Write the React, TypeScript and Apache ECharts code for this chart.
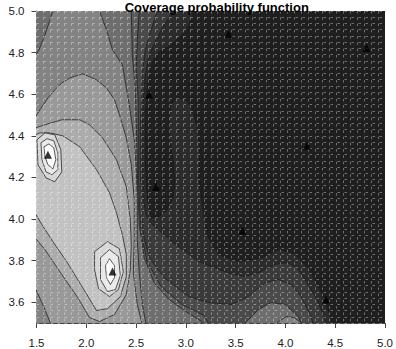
import React, { useEffect, useRef } from "react";
import * as echarts from "echarts";

const TITLE = "Coverage probability function";
const X_TICKS = [1.5, 2.0, 2.5, 3.0, 3.5, 4.0, 4.5, 5.0];
const Y_TICKS = [3.6, 3.8, 4.0, 4.2, 4.4, 4.6, 4.8, 5.0];

// gray level of each filled contour band (0 = lowest coverage)
const LEVEL_COLORS = [
  "#1f1f1f", "#2b2b2b", "#3a3a3a", "#4a4a4a", "#5b5b5b", "#6e6e6e", "#838383",
  "#999999", "#acacac", "#c2c2c2", "#d6d6d6", "#e9e9e9", "#fbfbfb",
];

// contour boundaries, in data units [x, y]
const BAND1 = [[1.435,5.029],[3.110,5.029],[3.080,5.0],[3.011,4.909],[2.851,4.837],[2.731,4.803],[2.662,4.755],[2.612,4.645],[2.592,4.477],[2.592,4.285],[2.612,4.093],[2.652,4.006],[2.731,4.011],[2.811,4.045],[2.871,4.102],[2.891,4.189],[2.871,4.285],[2.841,4.381],[2.831,4.477],[2.851,4.549],[2.901,4.582],[2.981,4.582],[3.050,4.544],[3.110,4.453],[3.140,4.333],[3.130,4.189],[3.170,4.045],[3.220,3.915],[3.329,3.829],[3.529,3.795],[3.758,3.814],[3.928,3.853],[4.077,3.838],[4.227,3.766],[4.347,3.661],[4.446,3.541],[4.486,3.459],[1.435,3.459]];
const BAND2 = [[1.435,5.029],[2.891,5.029],[2.881,5.0],[2.781,4.933],[2.701,4.861],[2.632,4.789],[2.592,4.693],[2.572,4.573],[2.562,4.429],[2.562,4.237],[2.572,4.093],[2.602,4.021],[2.632,3.987],[2.861,3.891],[3.130,3.795],[3.419,3.742],[3.589,3.723],[3.758,3.747],[3.888,3.781],[4.018,3.790],[4.117,3.766],[4.217,3.694],[4.317,3.613],[4.386,3.531],[4.426,3.459],[1.435,3.459]];
const BAND3 = [[1.435,5.029],[2.721,5.029],[2.711,5.0],[2.652,4.909],[2.592,4.813],[2.562,4.693],[2.552,4.573],[2.542,4.429],[2.542,4.237],[2.552,4.093],[2.572,3.925],[2.632,3.814],[2.781,3.718],[3.030,3.627],[3.230,3.598],[3.459,3.589],[3.629,3.627],[3.798,3.694],[3.928,3.709],[4.057,3.685],[4.157,3.627],[4.257,3.531],[4.297,3.459],[1.435,3.459]];
const BAND4 = [[1.435,5.029],[2.542,5.029],[2.532,5.0],[2.512,4.861],[2.502,4.717],[2.522,4.573],[2.522,4.429],[2.522,4.237],[2.532,4.093],[2.552,3.925],[2.612,3.795],[2.751,3.675],[2.961,3.589],[3.180,3.536],[3.280,3.459],[1.435,3.459]];
const BAND5 = [[1.435,5.029],[2.462,5.029],[2.452,5.0],[2.462,4.789],[2.492,4.630],[2.502,4.467],[2.512,4.237],[2.522,4.093],[2.532,3.973],[2.582,3.814],[2.681,3.694],[2.831,3.613],[3.001,3.555],[3.160,3.507],[3.190,3.459],[1.435,3.459]];
const BUMP5 = [[3.569,3.459],[3.599,3.502],[3.728,3.565],[3.858,3.598],[3.998,3.589],[4.127,3.531],[4.177,3.483],[4.197,3.459]];
const BAND6 = [[1.665,5.029],[2.133,5.029],[2.133,5.0],[2.203,4.909],[2.263,4.813],[2.362,4.741],[2.432,4.549],[2.482,4.381],[2.502,4.237],[2.512,4.093],[2.512,3.901],[2.532,3.742],[2.562,3.589],[2.602,3.493],[2.622,3.459],[1.435,3.459],[1.435,4.774],[1.495,4.789],[1.525,4.813],[1.585,4.885],[1.635,4.957],[1.665,5.0]];
const BUMP6 = [[3.898,3.459],[3.918,3.502],[4.008,3.531],[4.087,3.526],[4.157,3.502],[4.177,3.459]];
const BAND7 = [[1.435,4.467],[1.495,4.496],[1.535,4.525],[1.615,4.582],[1.684,4.621],[1.754,4.654],[1.834,4.678],[1.964,4.698],[2.103,4.669],[2.203,4.630],[2.283,4.573],[2.333,4.501],[2.402,4.390],[2.452,4.261],[2.482,4.093],[2.482,3.901],[2.472,3.742],[2.512,3.589],[2.562,3.493],[2.582,3.459],[1.655,3.459],[1.645,3.493],[1.585,3.565],[1.495,3.661],[1.435,3.689]];
const BAND8 = [[1.435,4.429],[1.585,4.453],[1.754,4.477],[1.934,4.477],[2.033,4.453],[2.163,4.390],[2.303,4.285],[2.402,4.155],[2.442,3.997],[2.452,3.877],[2.442,3.757],[2.402,3.637],[2.283,3.541],[2.133,3.507],[2.033,3.526],[1.914,3.622],[1.734,3.747],[1.585,3.853],[1.435,3.939]];
const BAND9 = [[1.435,4.395],[1.535,4.414],[1.635,4.414],[1.764,4.400],[1.934,4.347],[2.103,4.237],[2.233,4.126],[2.303,4.030],[2.362,3.925],[2.402,3.829],[2.402,3.723],[2.342,3.627],[2.213,3.569],[2.103,3.560],[1.964,3.670],[1.804,3.795],[1.665,3.891],[1.555,3.973],[1.435,4.069]];
const PEAK_A10 = [[1.505,4.381],[1.585,4.414],[1.684,4.405],[1.744,4.333],[1.754,4.227],[1.684,4.179],[1.595,4.198],[1.515,4.261]];
const PEAK_A11 = [[1.545,4.366],[1.605,4.386],[1.674,4.376],[1.714,4.318],[1.714,4.237],[1.655,4.213],[1.595,4.227],[1.555,4.285]];
const PEAK_A12 = [[1.575,4.347],[1.625,4.361],[1.674,4.342],[1.694,4.285],[1.665,4.241],[1.615,4.261],[1.585,4.299]];
const PEAK_B10 = [[2.083,3.843],[2.213,3.891],[2.333,3.857],[2.372,3.747],[2.323,3.661],[2.233,3.627],[2.123,3.665],[2.083,3.757]];
const PEAK_B11 = [[2.143,3.814],[2.233,3.853],[2.323,3.819],[2.342,3.728],[2.293,3.661],[2.213,3.651],[2.143,3.709]];
const PEAK_B12 = [[2.193,3.776],[2.233,3.809],[2.283,3.776],[2.283,3.718],[2.243,3.685],[2.203,3.718]];

const CONTOURS = [
  { level: 1, pts: BAND1 }, { level: 2, pts: BAND2 }, { level: 3, pts: BAND3 },
  { level: 4, pts: BAND4 }, { level: 5, pts: BAND5 }, { level: 5, pts: BUMP5 },
  { level: 6, pts: BAND6 }, { level: 6, pts: BUMP6 }, { level: 7, pts: BAND7 },
  { level: 8, pts: BAND8 }, { level: 9, pts: BAND9 },
  { level: 10, pts: PEAK_A10 }, { level: 11, pts: PEAK_A11 }, { level: 12, pts: PEAK_A12 },
  { level: 10, pts: PEAK_B10 }, { level: 11, pts: PEAK_B11 }, { level: 12, pts: PEAK_B12 },
];

// sensor sites (triangles)
const SITES_X = [1.615, 2.263, 2.632, 2.701, 3.429, 4.815, 4.217, 3.569, 4.406];
const SITES_Y = [4.309, 3.747, 4.597, 4.155, 4.890, 4.822, 4.352, 3.944, 3.613];

const GRID_CELLS = 50;

export default function App() {
  const ref = useRef<HTMLDivElement>(null);
  useEffect(() => {
    if (!ref.current) return;
    const chart = echarts.init(ref.current, null, { renderer: "svg" });
    const axisFont = { fontFamily: "Liberation Sans, Arial, sans-serif", fontSize: 11.5, color: "#222" };
    chart.setOption({
      animation: false,
      backgroundColor: "#ffffff",
      title: {
        text: TITLE,
        left: 211.75,
        top: -4,
        textAlign: "center",
        textStyle: { fontFamily: "Liberation Sans, Arial, sans-serif", fontSize: 13, fontWeight: "bold", color: "#000" },
      },
      grid: {
        left: 36.5, right: 9, top: 11, bottom: 24,
        show: true, backgroundColor: LEVEL_COLORS[0], borderWidth: 0,
      },
      xAxis: [
        {
          type: "value", min: 1.5, max: 5.0, interval: 0.5,
          axisLine: { show: true, onZero: false, lineStyle: { color: "#444", width: 1 } },
          axisTick: { show: true, length: 5, lineStyle: { color: "#444" } },
          axisLabel: { ...axisFont, margin: 14, formatter: (v: number) => v.toFixed(1) },
          splitLine: { show: false },
        },
        {
          type: "value", min: 0, max: GRID_CELLS, interval: 1, position: "top", z: 5,
          axisLine: { show: false }, axisTick: { show: false }, axisLabel: { show: false },
          splitLine: { show: true, lineStyle: { color: "rgba(255,255,255,0.36)", width: 1, type: [2.5, 3.78] } },
        },
      ],
      yAxis: [
        {
          type: "value", min: 3.5, max: 5.0,
          axisLine: { show: true, onZero: false, lineStyle: { color: "#444", width: 1 } },
          axisTick: { show: true, length: 5, lineStyle: { color: "#444" }, customValues: Y_TICKS },
          axisLabel: { ...axisFont, margin: 12, customValues: Y_TICKS, formatter: (v: number) => v.toFixed(1) },
          splitLine: { show: false },
        },
        {
          type: "value", min: 0, max: GRID_CELLS, interval: 1, position: "right", z: 5,
          axisLine: { show: false }, axisTick: { show: false }, axisLabel: { show: false },
          splitLine: { show: true, lineStyle: { color: "rgba(255,255,255,0.36)", width: 1, type: [2.5, 4.5] } },
        },
      ],
      series: [
        {
          type: "custom",
          xAxisIndex: 0, yAxisIndex: 0,
          clip: true, z: 2,
          encode: { x: 0, y: 1 },
          data: CONTOURS.map((c, i) => [c.pts[0][0], c.pts[0][1], i]),
          renderItem: (params: any, api: any) => {
            const c = CONTOURS[params.dataIndex];
            const points = c.pts.map((p) => api.coord(p));
            return {
              type: "polygon",
              shape: { points },
              style: { fill: LEVEL_COLORS[c.level], stroke: "rgba(25,25,25,0.9)", lineWidth: 0.8 },
            };
          },
        },
        {
          type: "scatter",
          xAxisIndex: 0, yAxisIndex: 0, z: 10,
          symbol: "triangle", symbolSize: 8,
          itemStyle: { color: "#000" },
          data: SITES_X.map((x, i) => [x, SITES_Y[i]]),
        },
      ],
    });
    return () => chart.dispose();
  }, []);
  return <div ref={ref} style={{ position: "fixed", left: 0, top: 0, width: 396, height: 349 }} />;
}
